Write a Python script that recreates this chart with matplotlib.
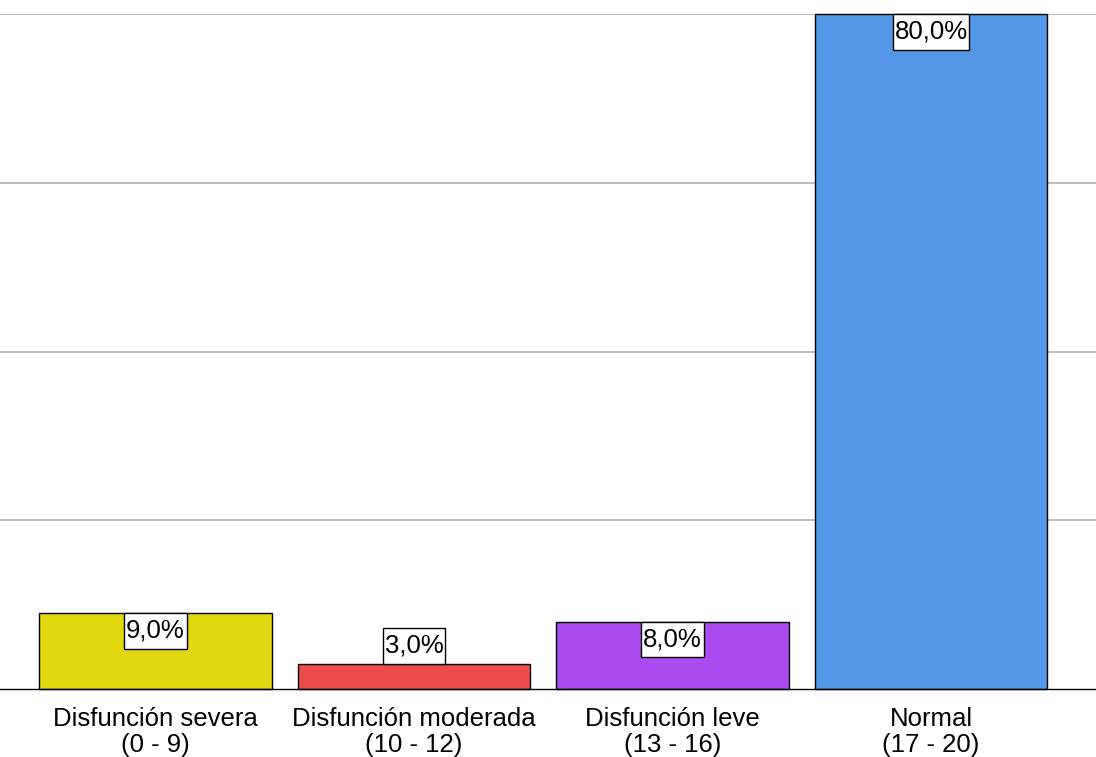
import matplotlib.pyplot as plt
from matplotlib.path import Path

plt.rcParams['font.family'] = ['Liberation Sans Narrow', 'Liberation Sans', 'DejaVu Sans']

categorias = ['Disfunción severa\n(0 - 9)', 'Disfunción moderada\n(10 - 12)',
              'Disfunción leve\n(13 - 16)', 'Normal\n(17 - 20)']
porcentajes = [9.0, 3.0, 8.0, 80.0]
colores = ['#E2D810', '#EC4C4C', '#AA4BF0', '#5497E6']

fs = 18.5
PAD_X, PAD_Y = 0.07, 0.23


def caja_etiqueta(x0, y0, width, height, mutation_size):
    # rectángulo con más margen vertical que horizontal
    px = PAD_X * mutation_size
    py = PAD_Y * mutation_size
    x0, y0 = x0 - px, y0 - py
    x1, y1 = x0 + width + 2 * px, y0 + height + 2 * py
    return Path([(x0, y0), (x1, y0), (x1, y1), (x0, y1), (x0, y0)], closed=True)


fig = plt.figure(figsize=(10.96, 7.57), dpi=100)
ax = fig.add_axes([0, 1 - 689 / 757, 1, (689 - 14) / 757])

x = range(len(categorias))
barras = ax.bar(x, porcentajes, width=0.9, color=colores, edgecolor='black',
                linewidth=1.0, zorder=3, clip_on=False)

ax.set_xlim(-0.6015, 3.638)
ax.set_ylim(0, 80)
ax.set_yticks([20, 40, 60, 80])
ax.yaxis.grid(True, color='#b0b0b0', linewidth=1.2, zorder=0)
ax.tick_params(axis='y', left=False, labelleft=False)
ax.tick_params(axis='x', length=0, labelsize=fs, pad=13)
ax.set_xticks(list(x))
ax.set_xticklabels(categorias, linespacing=1.1)
for lado in ['left', 'right', 'top']:
    ax.spines[lado].set_visible(False)
ax.spines['bottom'].set_linewidth(1.0)
ax.spines['bottom'].set_zorder(4)

# etiquetas de porcentaje: dentro de la barra si cabe, encima si no
desp = PAD_Y * fs
for barra, valor in zip(barras, porcentajes):
    cx = barra.get_x() + barra.get_width() / 2
    etiqueta = f'{valor:.1f}%'.replace('.', ',')
    caja = dict(boxstyle=caja_etiqueta, fc='white', ec='black', lw=1.0)
    if valor >= 5:
        ax.annotate(etiqueta, (cx, valor), xytext=(0, -desp), textcoords='offset points',
                    ha='center', va='top', fontsize=fs, zorder=5, bbox=caja)
    else:
        ax.annotate(etiqueta, (cx, valor), xytext=(0, desp), textcoords='offset points',
                    ha='center', va='bottom', fontsize=fs, zorder=5, bbox=caja)

fig.savefig('out.png', dpi=100)
